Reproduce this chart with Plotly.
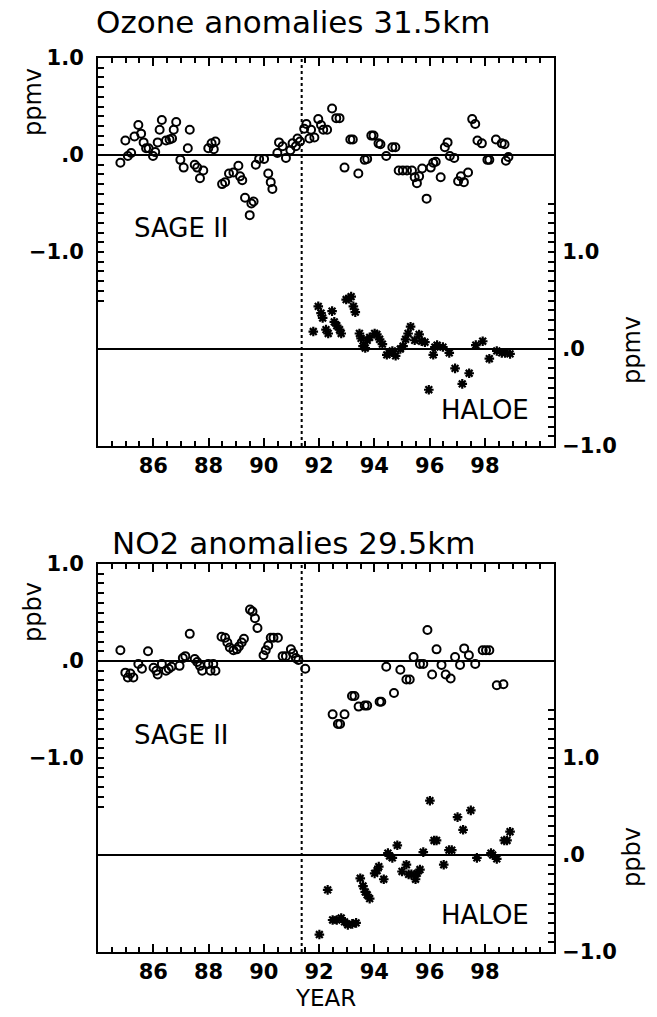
import plotly.graph_objects as go

# ---------------- data ----------------
sage_o3_year = [84.81, 84.99, 85.08, 85.20, 85.32, 85.46, 85.56, 85.65, 85.74, 85.83, 85.99, 86.07, 86.16,
                86.23, 86.31, 86.46, 86.59, 86.68, 86.74, 86.83, 86.98, 87.10, 87.25, 87.32, 87.50, 87.59,
                87.69, 87.81, 87.99, 88.11, 88.19, 88.25, 88.49, 88.60, 88.74, 88.90, 89.08, 89.14, 89.22,
                89.32, 89.49, 89.55, 89.63, 89.71, 89.83, 90.01, 90.16, 90.25, 90.31, 90.49, 90.55, 90.68,
                90.80, 90.96, 91.04, 91.16, 91.22, 91.31, 91.46, 91.54, 91.65, 91.71, 91.83, 91.97, 92.07,
                92.15, 92.29, 92.47, 92.62, 92.74, 92.92, 93.13, 93.22, 93.42, 93.65, 93.74, 93.89, 93.97,
                94.15, 94.22, 94.43, 94.65, 94.76, 94.88, 95.03, 95.18, 95.36, 95.46, 95.54, 95.62, 95.73,
                95.89, 96.04, 96.13, 96.22, 96.40, 96.55, 96.65, 96.73, 96.89, 97.03, 97.13, 97.24, 97.39,
                97.54, 97.65, 97.73, 97.89, 98.09, 98.16, 98.40, 98.61, 98.71, 98.76, 98.85]
sage_o3_val = [-0.08, 0.15, -0.01, 0.02, 0.19, 0.31, 0.22, 0.13, 0.07, 0.07, -0.01, 0.03, 0.13,
               0.26, 0.36, 0.15, 0.16, 0.17, 0.26, 0.34, -0.05, -0.13, 0.07, 0.26, -0.10, -0.13,
               -0.24, -0.16, 0.07, 0.12, 0.06, 0.14, -0.30, -0.28, -0.19, -0.18, -0.11, -0.22, -0.26,
               -0.44, -0.62, -0.50, -0.48, -0.10, -0.04, -0.04, -0.19, -0.28, -0.35, 0.02, 0.13, 0.09,
               -0.03, 0.05, 0.12, 0.09, 0.17, 0.14, 0.27, 0.32, 0.17, 0.26, 0.18, 0.37, 0.31,
               0.26, 0.26, 0.48, 0.38, 0.38, -0.13, 0.16, 0.16, -0.19, -0.05, -0.04, 0.20, 0.20,
               0.12, 0.11, -0.01, 0.08, 0.08, -0.16, -0.16, -0.16, -0.16, -0.23, -0.29, -0.22, -0.14,
               -0.45, -0.13, -0.08, -0.07, -0.23, 0.08, 0.13, -0.01, -0.03, -0.27, -0.22, -0.28, -0.18,
               0.37, 0.32, 0.15, 0.12, -0.05, -0.05, 0.16, 0.12, 0.11, -0.06, -0.02]

haloe_o3_year = [91.79, 91.97, 92.07, 92.13, 92.25, 92.33, 92.47, 92.55, 92.64, 92.74, 92.80, 92.98, 93.07,
                 93.16, 93.24, 93.31, 93.46, 93.52, 93.59, 93.67, 93.74, 93.83, 94.01, 94.09, 94.19, 94.29,
                 94.45, 94.55, 94.65, 94.77, 94.94, 95.04, 95.13, 95.22, 95.31, 95.46, 95.62, 95.71, 95.83,
                 95.97, 96.13, 96.19, 96.27, 96.48, 96.71, 96.92, 97.18, 97.43, 97.67, 97.92, 98.16, 98.43,
                 98.61, 98.73, 98.91]
haloe_o3_val = [0.18, 0.44, 0.37, 0.32, 0.20, 0.16, 0.39, 0.28, 0.24, 0.20, 0.16, 0.51, 0.52,
                0.54, 0.44, 0.38, 0.16, 0.11, 0.03, 0.01, 0.09, 0.12, 0.16, 0.15, 0.10, 0.05,
                -0.06, -0.04, -0.02, -0.07, 0.00, 0.03, 0.10, 0.16, 0.23, 0.09, 0.15, 0.08, 0.07,
                -0.42, -0.06, 0.02, 0.04, 0.02, -0.04, -0.20, -0.36, -0.25, 0.04, 0.08, -0.10, -0.02,
                -0.04, -0.04, -0.05]

sage_no2_year = [84.81, 84.99, 85.08, 85.17, 85.28, 85.46, 85.59, 85.81, 86.01, 86.11, 86.16, 86.31, 86.46,
                 86.56, 86.66, 86.95, 87.07, 87.16, 87.32, 87.50, 87.59, 87.69, 87.77, 87.99, 88.07, 88.17,
                 88.25, 88.47, 88.60, 88.68, 88.77, 88.90, 89.02, 89.10, 89.20, 89.28, 89.50, 89.59, 89.68,
                 89.77, 89.99, 90.07, 90.16, 90.25, 90.35, 90.51, 90.68, 90.80, 90.98, 91.06, 91.16, 91.25,
                 91.50, 92.49, 92.68, 92.76, 92.92, 93.19, 93.28, 93.43, 93.65, 93.74, 94.19, 94.25, 94.43,
                 94.71, 94.94, 95.16, 95.28, 95.42, 95.65, 95.77, 95.92, 96.09, 96.25, 96.43, 96.58, 96.76,
                 96.92, 97.10, 97.25, 97.42, 97.65, 97.92, 98.04, 98.16, 98.43, 98.67]
sage_no2_val = [0.11, -0.12, -0.17, -0.13, -0.17, -0.03, -0.08, 0.10, -0.07, -0.10, -0.14, -0.03, -0.10,
                -0.08, -0.06, -0.05, 0.03, 0.05, 0.28, 0.02, -0.01, -0.05, -0.10, -0.03, -0.10, -0.03,
                -0.10, 0.25, 0.24, 0.19, 0.14, 0.11, 0.12, 0.15, 0.19, 0.23, 0.53, 0.51, 0.44,
                0.34, 0.06, 0.11, 0.16, 0.24, 0.24, 0.24, 0.05, 0.05, 0.12, 0.08, 0.03, 0.01,
                -0.08, -0.55, -0.65, -0.65, -0.55, -0.36, -0.36, -0.47, -0.46, -0.46, -0.42, -0.42, -0.06,
                -0.33, -0.09, -0.19, -0.19, 0.04, -0.03, -0.03, 0.32, -0.14, 0.12, -0.04, -0.14, -0.18,
                0.04, -0.04, 0.13, 0.06, -0.03, 0.11, 0.11, 0.11, -0.25, -0.24]

haloe_no2_year = [92.01, 92.31, 92.49, 92.64, 92.80, 92.92, 93.04, 93.20, 93.34, 93.49, 93.59, 93.67, 93.74,
                  93.83, 94.01, 94.10, 94.16, 94.34, 94.49, 94.55, 94.65, 94.83, 95.00, 95.16, 95.24, 95.34,
                  95.49, 95.55, 95.65, 95.77, 96.01, 96.16, 96.25, 96.51, 96.70, 96.80, 97.01, 97.21, 97.49,
                  97.71, 98.22, 98.28, 98.43, 98.70, 98.80, 98.91]
haloe_no2_val = [-0.82, -0.36, -0.67, -0.67, -0.65, -0.69, -0.72, -0.71, -0.70, -0.24, -0.32, -0.38, -0.41,
                 -0.45, -0.19, -0.16, -0.12, -0.25, 0.02, -0.01, -0.03, 0.10, -0.17, -0.10, -0.20, -0.20,
                 -0.25, -0.19, -0.15, 0.03, 0.56, 0.15, 0.15, -0.10, 0.05, 0.05, 0.39, 0.26, 0.46,
                 -0.03, 0.02, 0.00, -0.04, 0.15, 0.15, 0.24]

year_ticks = [86, 88, 90, 92, 94, 96, 98]
year_labels = ["86", "88", "90", "92", "94", "96", "98"]
eruption_year = 91.37

# ---------------- layout helpers ----------------
W, H = 657, 1017
ML, MR = 98, 103
FONT = "DejaVu Sans"
def px(x):
    return (x - ML) / (W - ML - MR)
def py(y):
    return 1 - y / H

left_ticks = [round(-1.5 + 0.1 * i, 1) for i in range(26)]
right_ticks = [round(-1.0 + 0.1 * i, 1) for i in range(26)]
def lab(v):
    return {1.0: "1.0", 0.0: ".0", -1.0: "\u22121.0"}.get(v, "")

fig = go.Figure()

circle = dict(symbol="circle-open", size=8, color="black", line=dict(width=2, color="black"))
star = dict(symbol="asterisk-open", size=8, color="black", line=dict(width=2.2, color="black"))

fig.add_trace(go.Scatter(x=sage_o3_year, y=sage_o3_val, mode="markers", marker=circle,
                         xaxis="x", yaxis="y", showlegend=False))
fig.add_trace(go.Scatter(x=haloe_o3_year, y=haloe_o3_val, mode="markers", marker=star,
                         xaxis="x", yaxis="y2", showlegend=False))
fig.add_trace(go.Scatter(x=sage_no2_year, y=sage_no2_val, mode="markers", marker=circle,
                         xaxis="x2", yaxis="y3", showlegend=False))
fig.add_trace(go.Scatter(x=haloe_no2_year, y=haloe_no2_val, mode="markers", marker=star,
                         xaxis="x2", yaxis="y4", showlegend=False))

tickfont = dict(family=FONT, size=21, color="black", weight="bold")
xcommon = dict(range=[84, 100.5], tickmode="array", tickvals=year_ticks, ticktext=year_labels,
               ticks="inside", ticklen=8, tickwidth=1.5, tickcolor="black",
               showline=True, linewidth=2, linecolor="black", mirror="ticks",
               showgrid=False, zeroline=False, tickfont=tickfont, automargin=False,
               ticklabelstandoff=0,
               minor=dict(tickmode="linear", tick0=84, dtick=0.5, ticks="inside", ticklen=5,
                          tickwidth=1.5, tickcolor="black", showgrid=False))
def yleft(domain):
    return dict(domain=domain, range=[-3, 1], tickmode="array", tickvals=left_ticks,
                ticktext=[lab(v) for v in left_ticks], ticks="inside", ticklen=6, tickwidth=1.5,
                tickcolor="black", showline=True, linewidth=2, linecolor="black", automargin=False,
                showgrid=False, zeroline=False, tickfont=tickfont, ticklabelstandoff=8)
def yright(over):
    return dict(overlaying=over, side="right", range=[-1, 3], tickmode="array", tickvals=right_ticks,
                ticktext=[lab(v) for v in right_ticks], ticks="inside", ticklen=6, tickwidth=1.5,
                tickcolor="black", showline=True, linewidth=2, linecolor="black", automargin=False,
                showgrid=False, zeroline=False, tickfont=tickfont, ticklabelstandoff=2)

top_dom = [py(446), py(58)]
bot_dom = [py(952), py(564)]

fig.update_layout(
    width=W, height=H, margin=dict(l=ML, r=MR, t=0, b=0, autoexpand=False),
    paper_bgcolor="white", plot_bgcolor="white",
    xaxis=dict(anchor="y", domain=[0, 1], **xcommon),
    yaxis=yleft(top_dom),
    yaxis2=yright("y"),
    xaxis2=dict(anchor="y3", domain=[0, 1], **xcommon),
    yaxis3=yleft(bot_dom),
    yaxis4=yright("y3"),
)

# zero lines and eruption marker
shapes = []
for xr, yr in [("x", "y"), ("x", "y2"), ("x2", "y3"), ("x2", "y4")]:
    shapes.append(dict(type="line", xref=xr + " domain", x0=0, x1=1, yref=yr, y0=0, y1=0,
                       line=dict(color="black", width=2)))
for xr, yr in [("x", "y"), ("x2", "y3")]:
    shapes.append(dict(type="line", xref=xr, x0=eruption_year, x1=eruption_year,
                       yref=yr + " domain", y0=0, y1=1,
                       line=dict(color="black", width=2, dash="dot")))
fig.update_layout(shapes=shapes)

def ann(text, x, y, size, angle=0):
    return dict(text=text, x=px(x), y=py(y), xref="paper", yref="paper", showarrow=False,
                xanchor="center", yanchor="middle", textangle=angle,
                font=dict(family=FONT, size=size, color="black"))

fig.update_layout(annotations=[
    ann("Ozone anomalies 31.5km", 293, 22, 31),
    ann("NO2 anomalies 29.5km", 293, 543, 31),
    ann("ppmv", 33, 102, 24, -90),
    ann("ppmv", 632, 350, 24, -90),
    ann("ppbv", 33, 612, 24, -90),
    ann("ppbv", 632, 857, 24, -90),
    ann("SAGE II", 181, 228, 26),
    ann("SAGE II", 181, 735, 26),
    ann("HALOE", 485, 410, 26),
    ann("HALOE", 485, 915, 26),
    ann("YEAR", 325, 998, 23),
])

fig.write_html("out.html")
